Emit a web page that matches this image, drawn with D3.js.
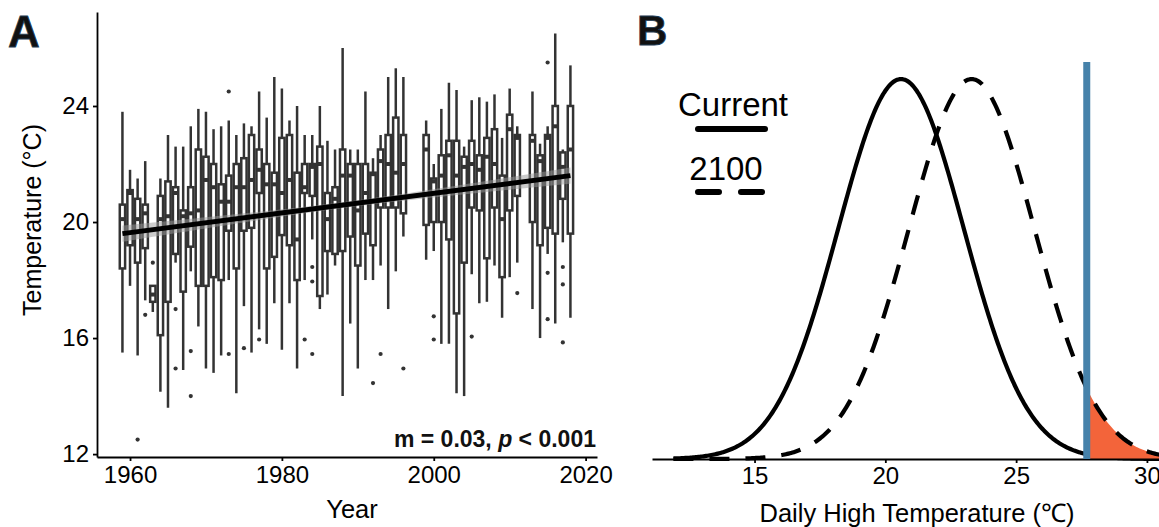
<!DOCTYPE html>
<html>
<head>
<meta charset="utf-8">
<script src="https://d3js.org/d3.v7.min.js"></script>
<style>
body { margin: 0; background: #fff; }
svg { display: block; font-family: "Liberation Sans", Arial, Helvetica, sans-serif; }
</style>
</head>
<body>
<script>
// ---- panel A data: yearly boxplots (no data for 1997, 1998, 2012)
var years = [1959,1960,1961,1962,1963,1964,1965,1966,1967,1968,
  1969,1970,1971,1972,1973,1974,1975,1976,1977,1978,
  1979,1980,1981,1982,1983,1984,1985,1986,1987,1988,
  1989,1990,1991,1992,1993,1994,1995,1996,1999,2000,
  2001,2002,2003,2004,2005,2006,2007,2008,2009,2010,
  2011,2013,2014,2015,2016,2017,2018];
var whiskerLow = [15.5,17.8,15.4,17.3,16.9,14.15,13.6,18.6,14.9,18.3,
  16.4,14.95,14.8,15.4,18.0,14.1,17.1,15.5,16.3,15.8,
  17.2,15.6,17.2,14.95,18.0,19.4,17.0,17.5,18.5,14.0,
  16.5,14.95,18.0,18.0,18.5,17.0,18.3,19.5,18.7,19.0,
  15.8,15.8,14.1,14.0,18.2,17.2,17.25,18.5,16.7,18.1,
  18.6,17.0,16.0,18.9,16.5,19.3,16.7];
var q1 = [18.4,19.2,18.6,19.1,17.25,16.1,17.25,18.9,17.6,19.15,
  17.8,17.8,18.1,18.0,19.7,18.4,19.7,19.8,21.0,18.4,
  18.8,19.55,19.2,18.0,21.0,20.9,17.45,19.0,18.9,19.0,
  19.5,18.5,19.6,19.2,20.5,20.5,20.5,20.3,19.9,20.0,
  20.0,19.4,16.85,18.6,20.5,20.4,18.75,20.5,18.1,20.4,
  20.9,20.0,19.2,19.8,19.6,20.8,19.6];
var medians = [20.1,21.0,20.1,20.3,17.5,20.1,20.2,21.0,20.2,20.3,
  20.4,21.45,21.2,20.7,20.7,21.2,21.2,21.45,21.8,21.3,
  21.3,21.0,21.45,19.4,21.2,21.9,22.0,20.1,20.8,21.6,
  21.6,20.4,21.0,21.65,22.1,22.0,21.7,22.0,22.5,21.4,
  21.6,22.3,21.6,21.9,22.0,21.8,22.25,22.0,20.1,23.2,
  22.9,22.8,22.1,22.9,23.3,21.9,22.5];
var q3 = [20.6,21.1,20.8,20.6,17.8,20.9,21.4,21.2,20.4,21.2,
  22.5,22.25,22.0,21.3,21.6,22.0,22.2,23.0,22.5,22.0,
  21.7,22.9,23.0,21.7,22.0,22.0,22.6,21.0,21.2,22.5,
  22.0,22.0,22.0,21.7,22.5,23.0,23.6,23.0,23.0,21.5,
  22.3,22.8,22.8,22.25,22.8,22.3,22.9,23.2,21.6,23.7,
  23.0,23.0,22.3,23.0,24.0,22.4,24.0];
var whiskerHigh = [23.8,21.8,21.5,22.1,17.8,21.5,23.0,22.6,22.6,23.3,
  23.9,23.8,23.2,23.3,23.5,23.0,23.4,23.3,24.5,23.6,
  25.0,24.6,23.5,24.0,23.0,23.0,24.0,22.8,22.5,26.0,
  22.5,22.5,24.5,22.2,23.0,25.0,25.3,25.0,23.5,22.0,
  23.9,24.8,24.55,22.6,24.2,24.3,24.15,24.4,22.9,24.6,
  23.3,24.5,22.7,23.3,26.5,22.5,25.4];
var outlierYears = [1961,1962,1963,1966,1966,1968,1968,1973,1973,1975,1977,1983,1984,1984,
  1984,1992,1993,1996,2000,2000,2005,2011,2015,2015,2015,2017,2017,2017];
var outlierValues = [12.5,16.8,18.6,17.0,14.95,15.55,14.0,24.5,15.45,15.65,15.95,15.95,18.45,17.95,
  15.45,14.45,15.45,14.95,16.75,15.95,16.05,17.55,25.5,18.25,16.65,18.45,17.85,15.85];
var fitYears = [1959, 2018];
var fitValues = [19.6, 21.6];
var fitBand = [0.28, 0.1];   // CI half width at the ends, at the middle
var tempTicks = [12, 16, 20, 24];
var yearTicks = [1960, 1980, 2000, 2020];

// ---- panel B data: daily high distributions
var distNames = ["Current", "2100"];
var distMeans = [20.6, 23.3];
var distSds = [2.4, 2.4];
var threshold = 27.7;
var dailyTicks = [15, 20, 25, 30];

var W = 1159, H = 527;
var svg = d3.select("body").append("svg")
    .attr("width", W)
    .attr("height", H);

function styleAxis(g, size) {
  g.attr("font-family", null).attr("font-size", size);
  g.selectAll("path, line").attr("stroke", "#000").attr("stroke-width", 1.8);
  g.selectAll("text").attr("fill", "#000");
}

// ================= panel A
var xA = d3.scaleLinear().domain([1955.65, 2021.5]).range([97, 597]);
var yA = d3.scaleLinear().domain([11.9, 27.24]).range([457, 12]);
var boxW = xA(0.7) - xA(0);
var boxColor = "#333333";

var gA = svg.append("g");

var boxes = gA.selectAll(".box")
    .data(years)
  .enter().append("g")
    .attr("class", "box");

boxes.append("line")
    .attr("x1", d => xA(d)).attr("x2", d => xA(d))
    .attr("y1", (d, i) => yA(whiskerLow[i]))
    .attr("y2", (d, i) => yA(whiskerHigh[i]))
    .attr("stroke", boxColor).attr("stroke-width", 2.5);

boxes.append("rect")
    .attr("x", d => xA(d) - boxW / 2)
    .attr("width", boxW)
    .attr("y", (d, i) => yA(q3[i]))
    .attr("height", (d, i) => yA(q1[i]) - yA(q3[i]))
    .attr("fill", "#fff")
    .attr("stroke", boxColor).attr("stroke-width", 2.5);

boxes.append("line")
    .attr("x1", d => xA(d) - boxW / 2).attr("x2", d => xA(d) + boxW / 2)
    .attr("y1", (d, i) => yA(medians[i]))
    .attr("y2", (d, i) => yA(medians[i]))
    .attr("stroke", boxColor).attr("stroke-width", 4);

gA.selectAll(".outlier")
    .data(outlierYears)
  .enter().append("circle")
    .attr("class", "outlier")
    .attr("cx", d => xA(d))
    .attr("cy", (d, i) => yA(outlierValues[i]))
    .attr("r", 2.1)
    .attr("fill", boxColor);

// regression line with confidence band
var fitSlope = (fitValues[1] - fitValues[0]) / (fitYears[1] - fitYears[0]);
var fitMid = (fitYears[0] + fitYears[1]) / 2, fitHalf = (fitYears[1] - fitYears[0]) / 2;
function fitAt(t) { return fitValues[0] + fitSlope * (t - fitYears[0]); }
function bandAt(t) {
  var u = (t - fitMid) / fitHalf;
  return Math.sqrt(fitBand[1] * fitBand[1] + (fitBand[0] * fitBand[0] - fitBand[1] * fitBand[1]) * u * u);
}
var bandYears = d3.range(fitYears[0], fitYears[1] + 0.01, 0.5);
gA.append("path")
    .datum(bandYears)
    .attr("d", d3.area()
      .x(d => xA(d))
      .y0(d => yA(fitAt(d) - bandAt(d)))
      .y1(d => yA(fitAt(d) + bandAt(d))))
    .attr("fill", "#999")
    .attr("fill-opacity", 0.5);

gA.append("line")
    .attr("x1", xA(fitYears[0])).attr("x2", xA(fitYears[1]))
    .attr("y1", yA(fitValues[0])).attr("y2", yA(fitValues[1]))
    .attr("stroke", "#000").attr("stroke-width", 5);

var ann = gA.append("text")
    .attr("x", 596).attr("y", 447)
    .attr("text-anchor", "end")
    .attr("font-weight", "bold")
    .attr("font-size", 23)
    .attr("fill", "#111");
ann.append("tspan").text("m = 0.03, ");
ann.append("tspan").attr("font-style", "italic").text("p");
ann.append("tspan").text(" < 0.001");

gA.append("g")
    .attr("transform", "translate(0," + yA.range()[0] + ")")
    .call(d3.axisBottom(xA).tickValues(yearTicks).tickFormat(d3.format("d"))
      .tickSize(4).tickSizeOuter(0).tickPadding(5))
    .call(styleAxis, 24);

gA.append("g")
    .attr("transform", "translate(" + xA.range()[0] + ",0)")
    .call(d3.axisLeft(yA).tickValues(tempTicks).tickSize(4).tickSizeOuter(0).tickPadding(4))
    .call(styleAxis, 24);

gA.append("text")
    .attr("x", 352).attr("y", 518)
    .attr("text-anchor", "middle")
    .attr("font-size", 25.5)
    .text("Year");

gA.append("text")
    .attr("transform", "translate(41,220) rotate(-90)")
    .attr("text-anchor", "middle")
    .attr("font-size", 25)
    .text("Temperature (°C)");

svg.append("text")
    .attr("x", 8).attr("y", 47)
    .attr("font-size", 44).attr("font-weight", "bold")
    .attr("fill", "#111").attr("stroke", "#1d3a52").attr("stroke-width", 0.8)
    .text("A");

// ================= panel B
var xB = d3.scaleLinear().domain([11.08, 30.5]).range([652, 1160]);
var peak = 1 / (d3.min(distSds) * Math.sqrt(2 * Math.PI));
var yB = d3.scaleLinear().domain([0, peak * 1.045]).range([459, 62]);

function dnorm(x, m, s) {
  var z = (x - m) / s;
  return Math.exp(-0.5 * z * z) / (s * Math.sqrt(2 * Math.PI));
}

var gB = svg.append("g");
var grid = d3.range(11.9, 30.6, 0.05);
var curve = d3.line().x(d => xB(d[0])).y(d => yB(d[1]));

// current (solid)
gB.append("path")
    .datum(grid.map(t => [t, dnorm(t, distMeans[0], distSds[0])]))
    .attr("d", curve)
    .attr("fill", "none")
    .attr("stroke", "#000").attr("stroke-width", 4.2);

// area above threshold under the 2100 curve
var tail = grid.filter(t => t >= threshold);
tail.unshift(threshold);
gB.append("path")
    .datum(tail)
    .attr("d", d3.area()
      .x(d => xB(d))
      .y0(yB(0))
      .y1(d => yB(dnorm(d, distMeans[1], distSds[1]))))
    .attr("fill", "#F3643A");

// 2100 (dashed)
gB.append("path")
    .datum(grid.map(t => [t, dnorm(t, distMeans[1], distSds[1])]))
    .attr("d", curve)
    .attr("fill", "none")
    .attr("stroke", "#000").attr("stroke-width", 4.2)
    .attr("stroke-dasharray", "20,16");

gB.append("g")
    .attr("transform", "translate(0," + yB.range()[0] + ")")
    .call(d3.axisBottom(xB).tickValues(dailyTicks).tickSize(4).tickSizeOuter(0).tickPadding(4))
    .call(styleAxis, 24);

gB.append("line")
    .attr("x1", xB(threshold)).attr("x2", xB(threshold))
    .attr("y1", yB.range()[1]).attr("y2", yB(0))
    .attr("stroke", "#4682AA").attr("stroke-width", 7);

gB.append("text")
    .attr("x", 917).attr("y", 522)
    .attr("text-anchor", "middle")
    .attr("font-size", 25.5)
    .text("Daily High Temperature (\u2103)");

// legend
var legendY = [116, 180];
gB.selectAll(".legtext")
    .data(distNames)
  .enter().append("text")
    .attr("class", "legtext")
    .attr("x", (d, i) => i === 0 ? 733 : 726)
    .attr("y", (d, i) => legendY[i])
    .attr("text-anchor", "middle")
    .attr("font-size", 33)
    .text(d => d);

gB.append("line")
    .attr("x1", 698).attr("x2", 765).attr("y1", 129).attr("y2", 129)
    .attr("stroke", "#000").attr("stroke-width", 6).attr("stroke-linecap", "round");
gB.append("line")
    .attr("x1", 698).attr("x2", 762).attr("y1", 192).attr("y2", 192)
    .attr("stroke", "#000").attr("stroke-width", 6).attr("stroke-linecap", "round")
    .attr("stroke-dasharray", "21,22");

svg.append("text")
    .attr("x", 637).attr("y", 45)
    .attr("font-size", 42).attr("font-weight", "bold")
    .attr("fill", "#111").attr("stroke", "#1d3a52").attr("stroke-width", 0.8)
    .text("B");
</script>
</body>
</html>
